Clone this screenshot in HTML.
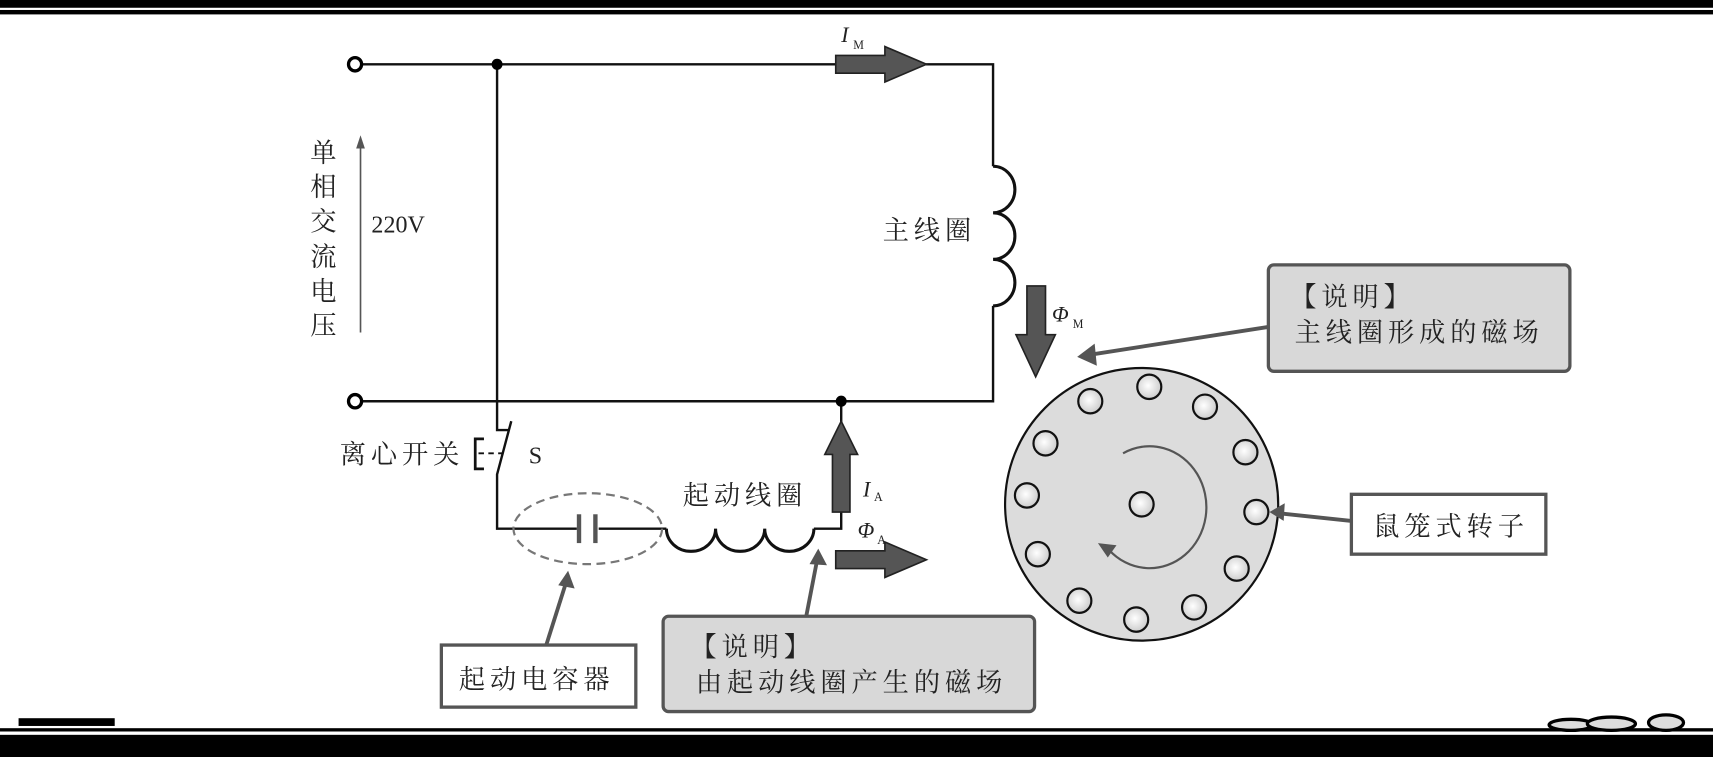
<!DOCTYPE html>
<html><head><meta charset="utf-8"><style>
html,body{margin:0;padding:0;background:#fff;width:1713px;height:757px;overflow:hidden}
svg{display:block}
text{font-family:"Liberation Serif","Noto Serif CJK SC","Noto Sans CJK SC",serif;fill:#222}
.c{font-size:24px;letter-spacing:4.5px}
</style></head><body>
<svg width="1713" height="757" viewBox="0 0 1568 683" preserveAspectRatio="none" xmlns="http://www.w3.org/2000/svg">
<defs>
<radialGradient id="g" cx="0.45" cy="0.45" r="0.6"><stop offset="0" stop-color="#fff"/><stop offset="1" stop-color="#c8c8c8"/></radialGradient>
</defs>
<rect x="0" y="0" width="1568" height="7" fill="#000"/>
<rect x="0" y="9" width="1568" height="4" fill="#000"/>
<rect x="17" y="648" width="88" height="7" fill="#000"/>
<rect x="0" y="657" width="1568" height="3" fill="#000"/>
<rect x="0" y="663" width="1568" height="20" fill="#000"/>
<ellipse cx="1438" cy="654" rx="20" ry="5" fill="#ddd" stroke="#000" stroke-width="3"/>
<ellipse cx="1475" cy="653" rx="22" ry="6" fill="#ddd" stroke="#000" stroke-width="3"/>
<ellipse cx="1525" cy="652" rx="16" ry="7" fill="#ddd" stroke="#000" stroke-width="3"/>

<g fill="none" stroke="#111" stroke-width="2.2">
<path d="M332,58 H909 V150"/>
<path d="M909,150 a20,21 0 0 1 0,42 a20,21 0 0 1 0,42 a20,21 0 0 1 0,42" stroke-width="2.8"/>
<path d="M909,276 V362 H332"/>
<path d="M455,58 V388 H466"/>
<path d="M468,380 L455,428 V477 H528"/>
<path d="M548,477 H610"/>
<path d="M610,477 a22,20 0 0 0 45,0 a22,20 0 0 0 45,0 a22,20 0 0 0 45,0" stroke-width="2.8"/>
<path d="M745,477 H770 V362"/>
<path d="M443,396 H435 V423 H443" stroke-width="2.5"/>
</g>
<path d="M438,409 H462" stroke="#111" stroke-width="1.8" stroke-dasharray="5,4"/>
<circle cx="325" cy="58" r="6" fill="#fff" stroke="#000" stroke-width="3"/>
<circle cx="325" cy="362" r="6" fill="#fff" stroke="#000" stroke-width="3"/>
<circle cx="455" cy="58" r="5" fill="#000"/>
<circle cx="770" cy="362" r="5" fill="#000"/>
<rect x="528" y="464" width="4" height="26" fill="#555"/>
<rect x="543" y="464" width="4" height="26" fill="#555"/>
<ellipse cx="538" cy="477" rx="68" ry="32" fill="none" stroke="#777" stroke-width="2" stroke-dasharray="8,5"/>
<line x1="330" y1="300" x2="330" y2="128" stroke="#555" stroke-width="1.5"/>
<path d="M330,122 L326,134 L334,134z" fill="#555"/>
<g fill="#555" stroke="#222" stroke-width="1.5">
<path d="M765,50 H810 V42 L848,58 L810,74 V66 H765z"/>
<path d="M765,497 H810 V489 L848,505 L810,521 V513 H765z"/>
<path d="M762,462 V410 H755 L770,380 L785,410 H778 V462z"/>
<path d="M940,258 H957 V302 H966 L948,340 L930,302 H940z"/>
</g>
<ellipse cx="1045" cy="455" rx="125" ry="123" fill="#dcdcdc" stroke="#111" stroke-width="2"/>
<g fill="url(#g)" stroke="#111" stroke-width="2">
<circle cx="1052" cy="349" r="11"/><circle cx="998" cy="362" r="11"/><circle cx="1103" cy="367" r="11"/>
<circle cx="957" cy="400" r="11"/><circle cx="1140" cy="408" r="11"/><circle cx="940" cy="447" r="11"/>
<circle cx="1150" cy="462" r="11"/><circle cx="1045" cy="455" r="11"/><circle cx="950" cy="500" r="11"/>
<circle cx="1132" cy="513" r="11"/><circle cx="988" cy="542" r="11"/><circle cx="1093" cy="548" r="11"/>
<circle cx="1040" cy="559" r="11"/>
</g>
<path d="M1028,409 A52,55 0 1 1 1015,496" fill="none" stroke="#555" stroke-width="2"/>
<path d="M1005,490 L1022,492 L1014,503z" fill="#555"/>
<rect x="1161" y="239" width="276" height="96" rx="5" fill="#d8d8d8" stroke="#555" stroke-width="3"/>
<rect x="607" y="556" width="340" height="86" rx="5" fill="#d8d8d8" stroke="#555" stroke-width="3"/>
<rect x="404" y="582" width="178" height="56" fill="#fff" stroke="#555" stroke-width="3"/>
<rect x="1237" y="446" width="178" height="54" fill="#fff" stroke="#555" stroke-width="3"/>
<g stroke="#555" stroke-width="3.5" fill="none">
<line x1="1161" y1="295" x2="998" y2="320"/>
<line x1="1237" y1="470" x2="1170" y2="463"/>
<line x1="738" y1="556" x2="748" y2="505"/>
<line x1="500" y1="582" x2="518" y2="526"/>
</g>
<g fill="#555">
<path d="M986,322 L1002,310 L1004,330z"/>
<path d="M1162,462 L1176,454 L1175,470z"/>
<path d="M749,495 L741,509 L757,510z"/>
<path d="M520,515 L511,528 L526,531z"/>
</g>
<g class="c">
<text x="284" y="146">单</text><text x="284" y="177">相</text><text x="284" y="208">交</text>
<text x="284" y="240">流</text><text x="284" y="271">电</text><text x="284" y="302">压</text>
<text x="808" y="216">主线圈</text>
<text x="311" y="418">离心开关</text>
<text x="625" y="455">起动线圈</text>
<text x="1181" y="276">【说明】</text>
<text x="1185" y="308">主线圈形成的磁场</text>
<text x="632" y="592">【说明】</text>
<text x="637" y="624">由起动线圈产生的磁场</text>
<text x="420" y="621">起动电容器</text>
<text x="1257" y="483">鼠笼式转子</text>
</g>
<text x="340" y="210" font-size="22">220V</text>
<text x="484" y="418" font-size="22">S</text>
<g font-style="italic" font-size="20">
<text x="770" y="38">I</text><text x="790" y="448">I</text>
<text x="963" y="290">Φ</text><text x="785" y="485">Φ</text>
</g>
<g font-size="11">
<text x="781" y="44">M</text><text x="800" y="452">A</text>
<text x="982" y="296">M</text><text x="803" y="491">A</text>
</g>
</svg>
</body></html>
